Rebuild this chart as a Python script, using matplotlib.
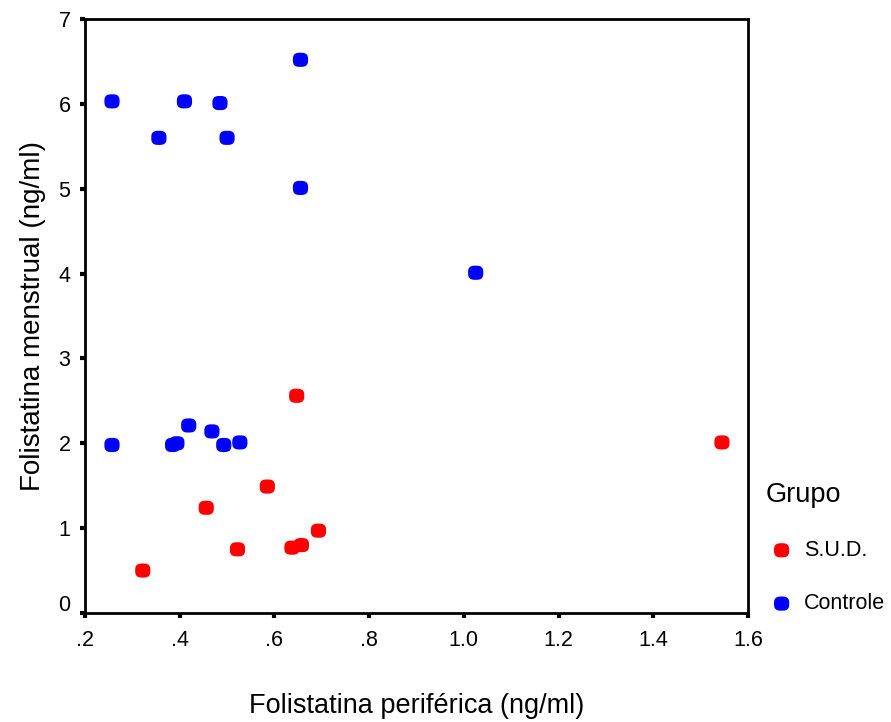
import matplotlib
matplotlib.use("Agg")
import numpy as np
import matplotlib.pyplot as plt
from matplotlib.ticker import FixedLocator
from matplotlib.transforms import ScaledTranslation

plt.rcParams['font.family'] = ['Liberation Sans', 'DejaVu Sans']

# Controle (azul)
ctrl_x = [0.257, 0.356, 0.410, 0.485, 0.500, 0.655, 0.655, 1.025,
          0.257, 0.385, 0.394, 0.419, 0.468, 0.493, 0.527]
ctrl_y = [6.03, 5.60, 6.03, 6.01, 5.60, 6.52, 5.01, 4.01,
          1.98, 1.98, 2.00, 2.21, 2.14, 1.98, 2.01]

# S.U.D. (vermelho)
sud_x = [0.647, 0.585, 0.456, 0.522, 0.322, 0.637, 0.657, 0.693, 1.545]
sud_y = [2.56, 1.49, 1.24, 0.75, 0.50, 0.77, 0.80, 0.97, 2.01]

x_ticks = [0.2, 0.4, 0.6, 0.8, 1.0, 1.2, 1.4, 1.6]
x_ticklabels = [".2", ".4", ".6", ".8", "1.0", "1.2", "1.4", "1.6"]
y_ticks = [0, 1, 2, 3, 4, 5, 6, 7]

# marcador quadrado arredondado, um pouco mais largo que alto
t = np.linspace(0, 2 * np.pi, 60)
mk = np.column_stack([np.sign(np.cos(t)) * np.abs(np.cos(t)) ** 0.7,
                      0.93 * np.sign(np.sin(t)) * np.abs(np.sin(t)) ** 0.7])

fig = plt.figure(figsize=(8.91, 7.22), dpi=100)
ax = fig.add_axes([0.0954, 0.151, 0.7441, 0.8226])

ax.scatter(sud_x, sud_y, s=120, marker=mk, color='#ff0000', edgecolors='none', label='S.U.D.', zorder=3)
ax.scatter(ctrl_x, ctrl_y, s=120, marker=mk, color='#0000ff', edgecolors='none', label='Controle', zorder=3)

ax.set_xlim(0.2, 1.6)
ax.set_ylim(0, 7)
ax.xaxis.set_major_locator(FixedLocator(x_ticks))
ax.set_xticklabels(x_ticklabels)
ax.yaxis.set_major_locator(FixedLocator(y_ticks))

for sp in ax.spines.values():
    sp.set_linewidth(2)
ax.tick_params(axis='both', direction='out', length=3.5, width=3, labelsize=15.5)
ax.tick_params(axis='x', pad=9)
ax.tick_params(axis='y', pad=7)

# o "0" fica um pouco acima do canto
zero_lbl = ax.yaxis.get_major_ticks()[0].label1
zero_lbl.set_transform(zero_lbl.get_transform() + ScaledTranslation(0, 0.10, fig.dpi_scale_trans))

ax.set_xlabel("Folistatina periférica (ng/ml)", fontsize=19.5, labelpad=30)
ax.set_ylabel("Folistatina menstrual (ng/ml)", fontsize=20, labelpad=9)

leg = fig.legend(title="Grupo", loc='upper left', bbox_to_anchor=(766 / 891, 1 - 482 / 722),
                 frameon=False, fontsize=15.5, title_fontsize=19.5, borderpad=0, borderaxespad=0,
                 handlelength=1.45, handletextpad=0.32, labelspacing=1.5)
leg._legend_box.align = "left"
leg._legend_box.sep = 23

fig.savefig("out.png", dpi=100)
